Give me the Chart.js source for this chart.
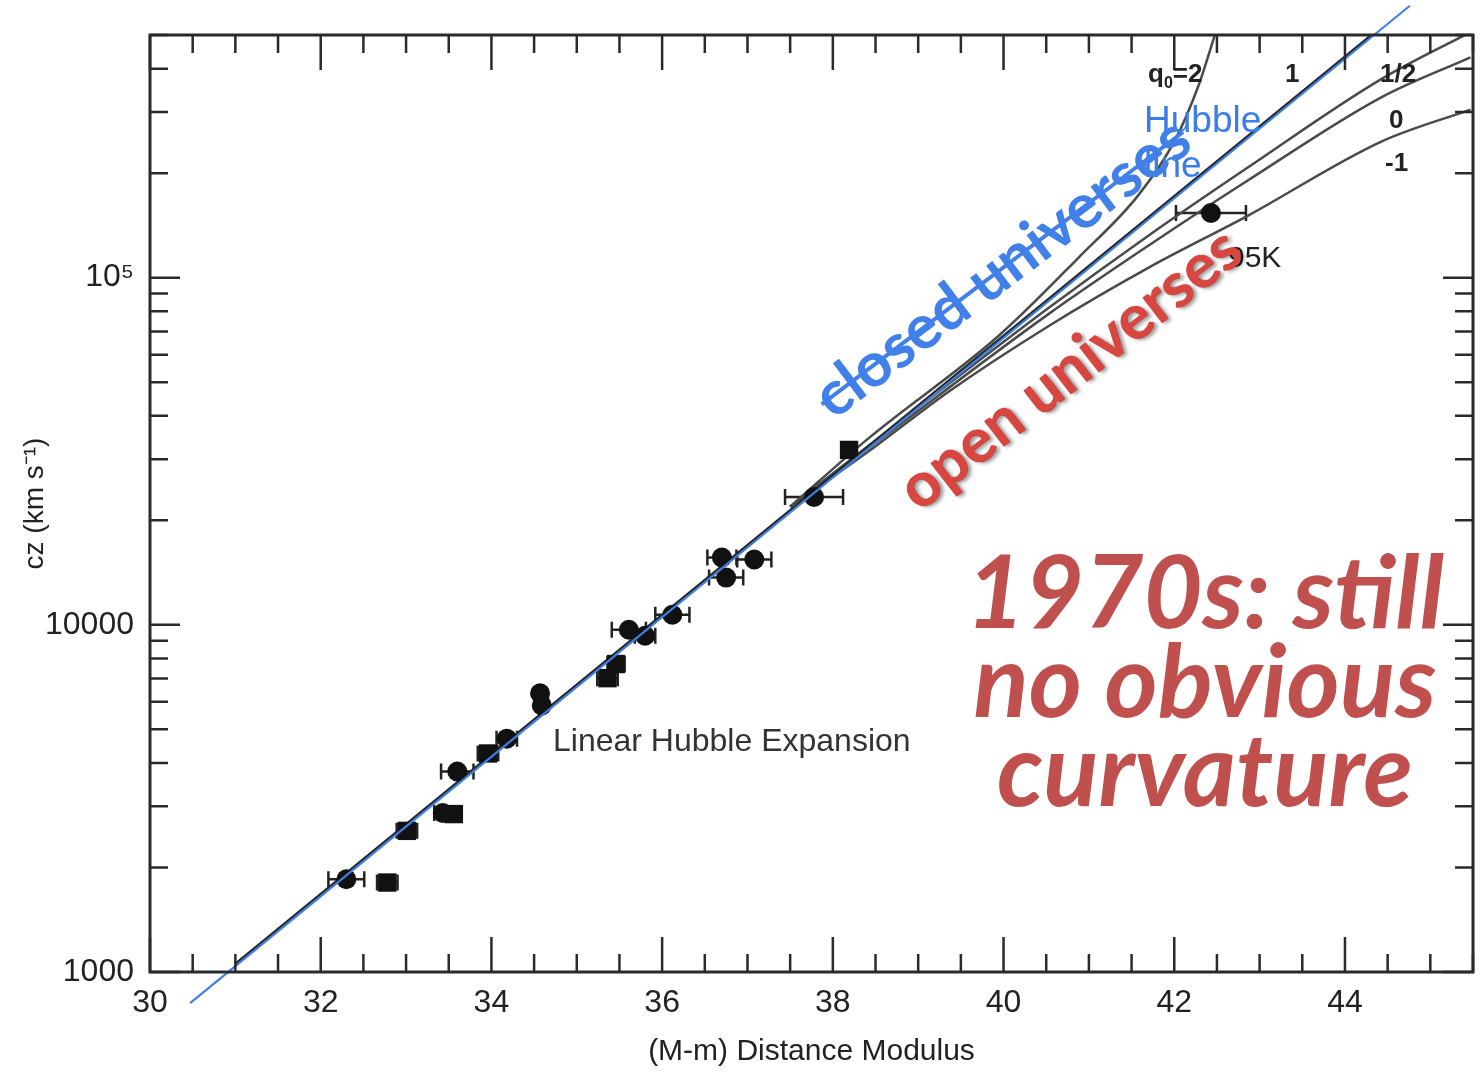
<!DOCTYPE html>
<html>
<head>
<meta charset="utf-8">
<title>Hubble diagram 1970s</title>
<script src="https://cdn.jsdelivr.net/npm/chart.js@4.4.1/dist/chart.umd.min.js"></script>
<style>
  body { margin: 0; background: #fff; }
  #wrap { position: relative; width: 1480px; height: 1077px; overflow: hidden; }
  #hubbleChart { position: absolute; left: 0; top: 0; }
  .note { position: absolute; white-space: nowrap; font-family: "Liberation Sans", Arial, sans-serif; color: #222; }
  .qlab { font-size: 26px; font-weight: bold; }
  #closed { left: 1000px; top: 265px; transform: translate(-50%, -50%) rotate(-37deg);
    font: 700 62px Lato, sans-serif; color: #4080e8;
    text-decoration: line-through; text-decoration-thickness: 4px; }
  #open { left: 1068px; top: 366px; transform: translate(-50%, -50%) rotate(-38deg);
    font: 700 62px Lato, sans-serif; color: #d9463f;
    text-shadow: 0 0 1px #9a2020, 2px 3px 4px rgba(0,0,0,0.4); }
  #big { left: 925px; top: 544px; width: 560px; text-align: center;
    font: italic 700 102px/89px Lato, sans-serif; color: #c0504d; }
</style>
</head>
<body>
<div id="wrap">
  <canvas id="hubbleChart" width="1480" height="1077"></canvas>
  <div class="note" style="left:553px; top:722px; font-size:32px; color:#333;">Linear Hubble Expansion</div>
  <div class="note" style="left:1144px; top:97px; font-size:37px; line-height:45px; color:#3b7de8;">Hubble<br>line</div>
  <div class="note" style="left:1228px; top:240px; font-size:30px;">95K</div>
  <div class="note qlab" style="left:1148px; top:58px;">q<sub style="font-size:16px;">0</sub>=2</div>
  <div class="note qlab" style="left:1285px; top:58px;">1</div>
  <div class="note qlab" style="left:1380px; top:58px;">1/2</div>
  <div class="note qlab" style="left:1389px; top:104px;">0</div>
  <div class="note qlab" style="left:1385px; top:147px;">-1</div>
  <div class="note" id="closed">closed universes</div>
  <div class="note" id="open">open universes</div>
  <div class="note" id="big">1970s: still<br>no obvious<br>curvature</div>
</div>
<script>
// axis ticks
const xTickValues = [30, 32, 34, 36, 38, 40, 42, 44];
const xTickLabels = ["30", "32", "34", "36", "38", "40", "42", "44"];
const yTickValues = [1000, 10000, 100000];
const yTickLabels = ["1000", "10000", "10\u2075"];

// galaxies drawn as filled circles
const circleMod = [32.30, 33.43, 33.60, 34.18, 34.57, 34.59, 35.61, 35.80, 36.12, 36.70, 36.75, 37.08, 37.78, 42.43];
const circleCz  = [1850, 2870, 3780, 4700, 6350, 5860, 9680, 9300, 10690, 15630, 13680, 15420, 23350, 153500];
const circleErr = [0.21, 0.10, 0.19, 0.12, 0, 0, 0.20, 0.12, 0.20, 0.17, 0.20, 0.20, 0.34, 0.41];

// clusters drawn as filled squares
const squareMod = [32.78, 33.01, 33.56, 33.96, 35.36, 35.46, 38.19];
const squareCz  = [1810, 2550, 2850, 4260, 7020, 7710, 31900];
const squareErr = [0.12, 0.12, 0, 0.12, 0.12, 0.10, 0];

// Hubble line (blue overlay) and the q0 = 1 line under it
const hubbleMod = [30.47, 44.76];
const hubbleCz  = [813, 607000];
const q1Mod = [31.0, 44.3];
const q1Cz  = [1054, 496600];

// curves for other deceleration parameters
const q2Mod = [37.5, 38.42, 39.94, 40.88, 41.58, 42.01, 42.28, 42.49];
const q2Cz  = [21900, 34500, 67900, 114300, 172900, 249500, 355300, 513100];
const qHalfMod = [37.5, 38.42, 40.53, 41.70, 42.87, 44.42, 45.47];
const qHalfCz  = [21900, 32800, 81850, 132300, 208300, 372400, 509600];
const q0Mod = [37.5, 38.42, 40.53, 41.70, 42.87, 44.42, 45.47];
const q0Cz  = [21900, 32300, 78650, 123800, 191100, 330200, 431300];
const qm1Mod = [37.5, 38.42, 39.36, 40.53, 41.70, 42.87, 44.42, 45.47];
const qm1Cz  = [21900, 31600, 47030, 72600, 106900, 151200, 246200, 304900];

function pts(xs, ys) {
  return xs.map((x, i) => ({ x: x, y: ys[i] }));
}

function curve(xs, ys) {
  return {
    data: pts(xs, ys),
    showLine: true,
    pointRadius: 0,
    borderColor: "#4a4a4a",
    borderWidth: 2.5,
    cubicInterpolationMode: "monotone"
  };
}

// horizontal error bars, drawn under the markers
const errorBars = {
  id: "errorBars",
  beforeDatasetsDraw(chart) {
    const { ctx, scales: { x, y } } = chart;
    const sets = [[circleMod, circleCz, circleErr], [squareMod, squareCz, squareErr]];
    ctx.save();
    ctx.strokeStyle = "#222";
    ctx.lineWidth = 2.5;
    ctx.beginPath();
    sets.forEach(([xs, ys, es]) => {
      xs.forEach((v, i) => {
        if (!es[i]) return;
        const x0 = x.getPixelForValue(v - es[i]);
        const x1 = x.getPixelForValue(v + es[i]);
        const py = y.getPixelForValue(ys[i]);
        ctx.moveTo(x0, py); ctx.lineTo(x1, py);
        ctx.moveTo(x0, py - 8); ctx.lineTo(x0, py + 8);
        ctx.moveTo(x1, py - 8); ctx.lineTo(x1, py + 8);
      });
    });
    ctx.stroke();
    ctx.restore();
  }
};

// box frame with inward ticks on all four sides
const frameTicks = {
  id: "frameTicks",
  afterDatasetsDraw(chart) {
    const { ctx, chartArea: a, scales: { x, y } } = chart;
    ctx.save();
    ctx.strokeStyle = "#2a2a2a";
    ctx.lineWidth = 3;
    ctx.strokeRect(a.left, a.top, a.right - a.left, a.bottom - a.top);
    ctx.lineWidth = 2.5;
    ctx.beginPath();
    for (let k = 0; k <= 31; k++) {
      const v = 30 + k * 0.5;
      const px = x.getPixelForValue(v);
      const len = k % 4 === 0 ? 35 : 18;
      ctx.moveTo(px, a.bottom); ctx.lineTo(px, a.bottom - len);
      ctx.moveTo(px, a.top); ctx.lineTo(px, a.top + len);
    }
    for (let d = 1000; d <= 100000; d *= 10) {
      for (let m = 1; m <= 9; m++) {
        const v = d * m;
        if (v > 500000) break;
        const py = y.getPixelForValue(v);
        const len = m === 1 ? 30 : 18;
        ctx.moveTo(a.left, py); ctx.lineTo(a.left + len, py);
        ctx.moveTo(a.right, py); ctx.lineTo(a.right - len, py);
      }
    }
    ctx.stroke();
    ctx.restore();
  }
};

const ctx = document.getElementById("hubbleChart").getContext("2d");

const hubbleChart = new Chart(ctx, {
  type: "scatter",
  data: {
    datasets: [
      {
        data: pts(hubbleMod, hubbleCz),
        showLine: true,
        pointRadius: 0,
        borderColor: "#3f80e4",
        borderWidth: 2.2,
        clip: false
      },
      {
        data: pts(circleMod, circleCz),
        pointStyle: "circle",
        pointRadius: 10,
        backgroundColor: "#111",
        borderColor: "#111",
        borderWidth: 0
      },
      {
        data: pts(squareMod, squareCz),
        pointStyle: "rect",
        pointRadius: 13,
        backgroundColor: "#111",
        borderColor: "#111",
        borderWidth: 0
      },
      {
        data: pts(q1Mod, q1Cz),
        showLine: true,
        pointRadius: 0,
        borderColor: "#262626",
        borderWidth: 3
      },
      curve(q2Mod, q2Cz),
      curve(qHalfMod, qHalfCz),
      curve(q0Mod, q0Cz),
      curve(qm1Mod, qm1Cz)
    ]
  },
  options: {
    responsive: false,
    animation: false,
    layout: { autoPadding: false, padding: { top: 35, right: 7, left: 0, bottom: 0 } },
    plugins: {
      legend: { display: false },
      tooltip: { enabled: false }
    },
    scales: {
      x: {
        type: "linear",
        min: 30,
        max: 45.5,
        grid: { display: false, drawTicks: false },
        border: { display: false },
        afterBuildTicks: (scale) => { scale.ticks = xTickValues.map(v => ({ value: v })); },
        afterFit: (scale) => { scale.height = 105; scale.paddingLeft = 0; scale.paddingRight = 0; },
        ticks: {
          padding: 12,
          color: "#222",
          font: { family: "'Liberation Sans', Arial, sans-serif", size: 32 },
          callback: (value, index) => xTickLabels[index]
        },
        title: {
          display: true,
          text: "(M-m) Distance Modulus",
          color: "#222",
          font: { family: "'Liberation Sans', Arial, sans-serif", size: 30 },
          padding: { top: 0, bottom: 7 }
        }
      },
      y: {
        type: "logarithmic",
        min: 1000,
        max: 500000,
        grid: { display: false, drawTicks: false },
        border: { display: false },
        afterBuildTicks: (scale) => { scale.ticks = yTickValues.map(v => ({ value: v })); },
        afterFit: (scale) => { scale.width = 150; scale.paddingTop = 0; scale.paddingBottom = 0; },
        ticks: {
          padding: 16,
          color: "#222",
          font: { family: "'Liberation Sans', Arial, sans-serif", size: 32 },
          callback: (value, index) => yTickLabels[index]
        },
        title: {
          display: true,
          text: "cz (km s\u207B\u00B9)",
          color: "#222",
          font: { family: "'Liberation Sans', Arial, sans-serif", size: 28 },
          padding: { top: 18, bottom: 0 }
        }
      }
    }
  },
  plugins: [errorBars, frameTicks]
});
</script>
</body>
</html>
